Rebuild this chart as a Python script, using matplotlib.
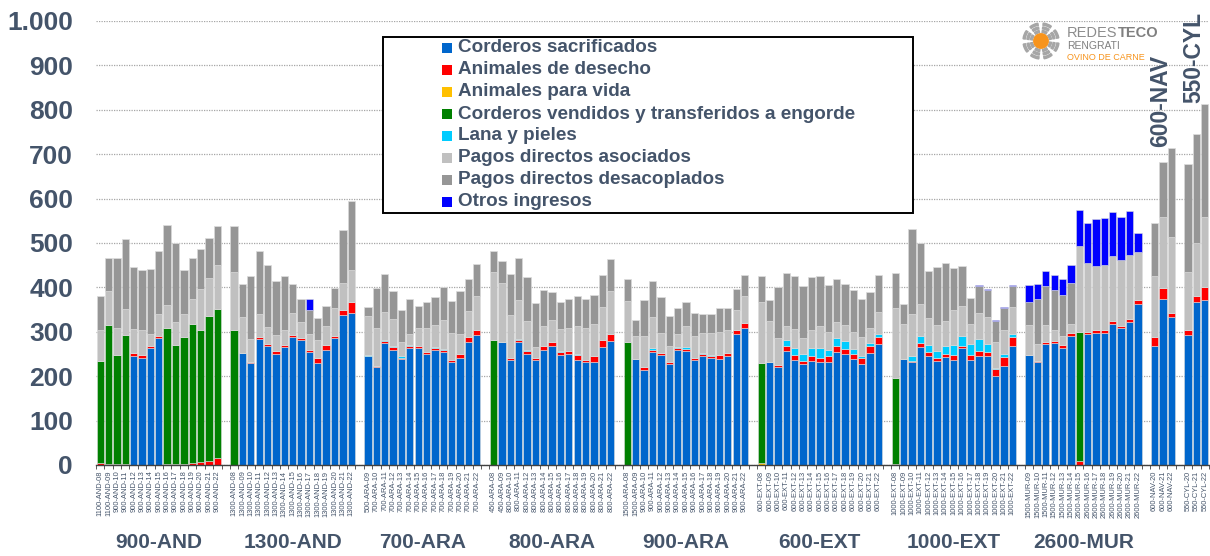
import matplotlib
matplotlib.use("Agg")
import matplotlib.pyplot as plt
from matplotlib.patches import Rectangle, Circle, Wedge
from matplotlib.transforms import blended_transform_factory
import numpy as np

plt.rcParams['font.family'] = ['Liberation Sans', 'DejaVu Sans']

# ---------------- data ----------------
group_names = ["900-AND", "1300-AND", "700-ARA", "800-ARA", "900-ARA",
               "600-EXT", "1000-EXT", "2600-MUR", "600-NAV", "550-CYL"]

group_ticks = [
    ["1100-AND-08", "1100-AND-09"] + [f"900-AND-{y}" for y in range(10, 23)],
    [f"1300-AND-{y:02d}" for y in range(8, 23)],
    ["500-ARA-09"] + [f"700-ARA-{y}" for y in range(10, 23)],
    ["450-ARA-08", "450-ARA-09"] + [f"800-ARA-{y}" for y in range(10, 23)],
    ["1500-ARA-08", "1500-ARA-09"] + [f"900-ARA-{y}" for y in range(10, 23)],
    [f"600-EXT-{y:02d}" for y in range(8, 23)],
    [f"1000-EXT-{y:02d}" for y in range(8, 23)],
    [f"1500-MUR-{y:02d}" for y in range(9, 15)] + [f"2600-MUR-{y}" for y in range(15, 23)],
    [f"600-NAV-{y}" for y in range(20, 23)],
    [f"550-CYL-{y}" for y in range(20, 23)],
]

corderos_sacrificados = (
    [0, 0, 0, 0, 246, 242, 263, 285, 0, 0, 0, 0, 0, 0, 0] +
    [0, 253, 229, 283, 267, 251, 265, 288, 281, 255, 230, 259, 286, 337, 342] +
    [245, 221, 274, 258, 239, 264, 263, 250, 258, 255, 233, 242, 278, 293] +
    [0, 276, 236, 277, 250, 236, 259, 269, 248, 249, 236, 231, 233, 266, 279] +
    [0, 238, 215, 255, 247, 227, 260, 256, 236, 245, 241, 239, 245, 294, 309] +
    [0, 233, 220, 256, 237, 227, 235, 231, 232, 255, 249, 238, 227, 252, 272] +
    [0, 239, 232, 265, 246, 235, 244, 236, 263, 236, 246, 245, 200, 224, 268] +
    [248, 233, 273, 274, 264, 290, 0, 294, 297, 297, 318, 308, 321, 362] +
    [267, 373, 333] +
    [293, 366, 372])
animales_desecho = (
    [4, 3, 2, 2, 6, 6, 4, 6, 3, 3, 3, 5, 6, 10, 15] +
    [1, 0, 2, 6, 6, 5, 5, 4, 4, 5, 12, 11, 5, 11, 26] +
    [0, 3, 5, 8, 3, 5, 5, 4, 5, 5, 4, 7, 10, 11] +
    [1, 0, 4, 4, 7, 6, 8, 7, 6, 8, 11, 5, 12, 16, 17] +
    [0, 0, 6, 5, 6, 4, 4, 6, 5, 6, 5, 8, 7, 9, 10] +
    [0, 0, 6, 11, 11, 8, 10, 11, 13, 12, 12, 11, 13, 16, 17] +
    [2, 0, 3, 9, 8, 7, 7, 11, 5, 12, 10, 10, 17, 20, 21] +
    [0, 2, 5, 5, 6, 7, 8, 6, 6, 6, 6, 6, 7, 10] +
    [21, 26, 9] +
    [11, 15, 28])
animales_vida = (
    [0] * 15 + [0] * 15 + [0] * 14 + [0] * 15 + [0] * 15 +
    [5] + [0] * 14 +
    [0] * 15 + [0] * 14 + [0] * 3 + [0] * 3)
corderos_engorde = (
    [231, 312, 245, 290, 0, 0, 0, 0, 305, 268, 285, 313, 298, 326, 336] +
    [303] + [0] * 14 +
    [0] * 14 +
    [280] + [0] * 14 +
    [276] + [0] * 14 +
    [225] + [0] * 14 +
    [194] + [0] * 14 +
    [0, 0, 0, 0, 0, 0, 292, 0, 0, 0, 0, 0, 0, 0] +
    [0, 0, 0] +
    [0, 0, 0])
lana_pieles = (
    [0] * 15 +
    [0] * 15 +
    [2, 0, 2, 1, 3, 1, 0, 0, 2, 2, 0, 0, 0, 0] +
    [0, 0, 0, 2, 1, 0, 0, 2, 2, 0, 3, 0, 0, 0, 0] +
    [0, 1, 0, 3, 0, 2, 2, 3, 0, 2, 2, 1, 0, 0, 0] +
    [0, 0, 0, 15, 15, 15, 18, 22, 14, 18, 19, 13, 5, 7, 6] +
    [0, 0, 11, 17, 16, 15, 18, 24, 23, 25, 27, 18, 2, 7, 5] +
    [0] * 14 + [0] * 3 + [0] * 3)
pagos_asociados = (
    [70, 78, 61, 60, 54, 55, 28, 50, 53, 52, 53, 55, 92, 85, 99] +
    [130, 81, 53, 51, 37, 37, 35, 51, 38, 36, 40, 42, 62, 63, 72] +
    [88, 84, 64, 61, 33, 24, 40, 54, 51, 65, 61, 45, 58, 76] +
    [153, 135, 97, 89, 67, 23, 45, 49, 50, 51, 64, 73, 73, 74, 97] +
    [94, 52, 70, 71, 44, 36, 29, 49, 50, 44, 49, 52, 51, 46, 62] +
    [138, 92, 59, 30, 44, 35, 40, 48, 41, 38, 36, 38, 44, 34, 50] +
    [158, 78, 95, 71, 62, 59, 56, 77, 67, 45, 60, 61, 57, 53, 61] +
    [68, 38, 37, 26, 21, 20, 194, 155, 146, 147, 146, 147, 144, 108] +
    [138, 160, 171] +
    [131, 120, 159])
pagos_desacoplados = (
    [75, 74, 159, 158, 140, 137, 147, 142, 180, 178, 99, 93, 91, 90, 88] +
    [104, 73, 142, 141, 140, 122, 120, 64, 50, 54, 50, 47, 46, 118, 154] +
    [20, 91, 85, 65, 70, 80, 49, 59, 63, 75, 72, 98, 73, 73] +
    [47, 48, 93, 94, 98, 100, 83, 62, 61, 65, 67, 65, 66, 72, 72] +
    [48, 35, 81, 80, 81, 67, 58, 53, 52, 44, 42, 53, 50, 47, 47] +
    [58, 46, 116, 120, 119, 119, 120, 114, 105, 97, 92, 94, 86, 80, 82] +
    [78, 46, 191, 138, 105, 130, 131, 96, 90, 59, 61, 61, 49, 50, 49] +
    [51, 100, 89, 90, 93, 93, 0, 0, 0, 0, 0, 0, 0, 0] +
    [118, 124, 200] +
    [243, 244, 254])
otros_ingresos = (
    [0] * 15 +
    [0, 0, 0, 0, 0, 0, 0, 0, 0, 23, 0, 0, 0, 0, 0] +
    [0] * 14 + [0] * 15 + [0] * 15 + [0] * 15 +
    [0, 0, 0, 0, 0, 0, 0, 0, 0, 0, 2, 2, 2, 2, 2] +
    [39, 35, 34, 34, 35, 41, 81, 91, 104, 106, 100, 98, 99, 42] +
    [0, 0, 0] +
    [0, 0, 0])

series_names = ["Corderos sacrificados", "Animales de desecho", "Animales para vida",
                "Corderos vendidos y transferidos a engorde", "Lana y pieles",
                "Pagos directos asociados", "Pagos directos desacoplados", "Otros ingresos"]
series_values = [corderos_sacrificados, animales_desecho, animales_vida, corderos_engorde,
                 lana_pieles, pagos_asociados, pagos_desacoplados, otros_ingresos]
series_colors = ["#0066CC", "#FF0000", "#FFC000", "#008000", "#00CCFF",
                 "#C0C0C0", "#969696", "#0000FF"]

TXT = "#44546A"

# ---------------- positions ----------------
positions, tick_labels, group_centers = [], [], []
pos = 0
for ticks in group_ticks:
    start = pos
    for t in ticks:
        positions.append(pos)
        tick_labels.append(t)
        pos += 1
    group_centers.append((start + pos - 1) / 2)
    pos += 1  # gap slot
n_slots = pos - 1
positions = np.array(positions, dtype=float)

# ---------------- figure ----------------
W, H = 1210, 556
fig = plt.figure(figsize=(W / 100, H / 100), dpi=100)
ax = fig.add_axes([96 / W, 1 - 465 / H, (1209 - 96) / W, (465 - 21) / H])

bottom = np.zeros(len(positions))
for vals, col in zip(series_values, series_colors):
    v = np.array(vals, dtype=float)
    ax.bar(positions, v, bottom=bottom, width=0.88, color=col,
           edgecolor="#dcdcdc", linewidth=0.4, zorder=3)
    bottom += v

ax.set_xlim(-0.5, n_slots - 0.5)
ax.set_ylim(0, 1000)
ax.set_yticks(np.arange(0, 1001, 100))
ax.set_yticklabels([f"{v:,}".replace(",", ".") for v in range(0, 1001, 100)])
ax.tick_params(axis="y", length=0, pad=16.5, labelsize=19, labelcolor=TXT)
for lab in ax.get_yticklabels():
    lab.set_fontweight("bold")
ax.grid(axis="y", color="#A6A6A6", linestyle=(0, (1, 1)), linewidth=0.9, zorder=0)

ax.set_xticks(positions)
ax.set_xticklabels(tick_labels, rotation=90, fontsize=5.4, color=TXT)
ax.tick_params(axis="x", which="major", length=0, pad=4)
ax.set_xticks(np.arange(-0.5, n_slots, 1), minor=True)
ax.tick_params(axis="x", which="minor", length=3, width=0.6, color="#404040")

for s in ["left", "right", "top"]:
    ax.spines[s].set_visible(False)
ax.spines["bottom"].set_color("#404040")
ax.spines["bottom"].set_linewidth(1.0)
ax.spines["bottom"].set_zorder(4)

# group labels at the bottom
trans = blended_transform_factory(ax.transData, fig.transFigure)
for name, cx in zip(group_names[:8], group_centers[:8]):
    ax.text(cx, 1 - 543 / H, name, transform=trans, ha="center", va="center",
            fontsize=15, fontweight="bold", color=TXT)

# rotated labels for NAV and CYL (placed just above the tallest bar of each group)
for k in (8, 9):
    idx = [i for i, p in enumerate(positions) if abs(p - group_centers[k]) <= 1]
    top = max(bottom[i] for i in idx)
    ax.text(group_centers[k] - 0.3, top + 3, group_names[k], rotation=90, ha="center",
            va="bottom", fontsize=16.5, fontweight="bold", color=TXT, zorder=5)

# ---------------- manual legend ----------------
fig.patches.append(Rectangle((383 / W, 1 - 213 / H), (913 - 383) / W, (213 - 37) / H,
                             transform=fig.transFigure, facecolor="white",
                             edgecolor="black", linewidth=1.4, zorder=10))
for i, (name, col) in enumerate(zip(series_names, series_colors)):
    yc = 48 + 22 * i
    mx = 442
    fig.patches.append(Rectangle((mx / W, 1 - (yc + 5) / H), 10 / W, 10 / H,
                                 transform=fig.transFigure, facecolor=col,
                                 edgecolor="none", zorder=11))
    fig.text((mx + 16) / W, 1 - yc / H, name, ha="left", va="center",
             fontsize=13.6, fontweight="bold", color=TXT, zorder=12)

# ---------------- logo ----------------
lax = fig.add_axes([1022 / W, 1 - 60 / H, 38 / W, 38 / H])
lax.set_xlim(-1, 1); lax.set_ylim(-1, 1); lax.axis("off"); lax.set_aspect("equal")
for r, w in [(0.95, 0.11), (0.75, 0.11), (0.56, 0.11)]:
    for a0 in range(0, 360, 45):
        lax.add_patch(Wedge((0, 0), r, a0 + 10, a0 + 38, width=w, color="#A6A6A6"))
lax.add_patch(Circle((0, 0), 0.38, color="#F7941D"))
t1 = fig.text(1067 / W, 1 - 33 / H, "REDES", fontsize=10.5, color="#8C8C8C",
              va="center", ha="left")
fig.canvas.draw()
bb = t1.get_window_extent()
fig.text(bb.x1 / W, 1 - 33 / H, "TECO", fontsize=10.5, color="#7F7F7F",
         fontweight="bold", va="center", ha="left")
fig.text(1067 / W, 1 - 46 / H, "RENGRATI", fontsize=7.5, color="#7F7F7F", va="center", ha="left")
fig.text(1067 / W, 1 - 57 / H, "OVINO DE CARNE", fontsize=6.5, color="#F7941D", va="center", ha="left")

fig.savefig("out.png", dpi=100)
